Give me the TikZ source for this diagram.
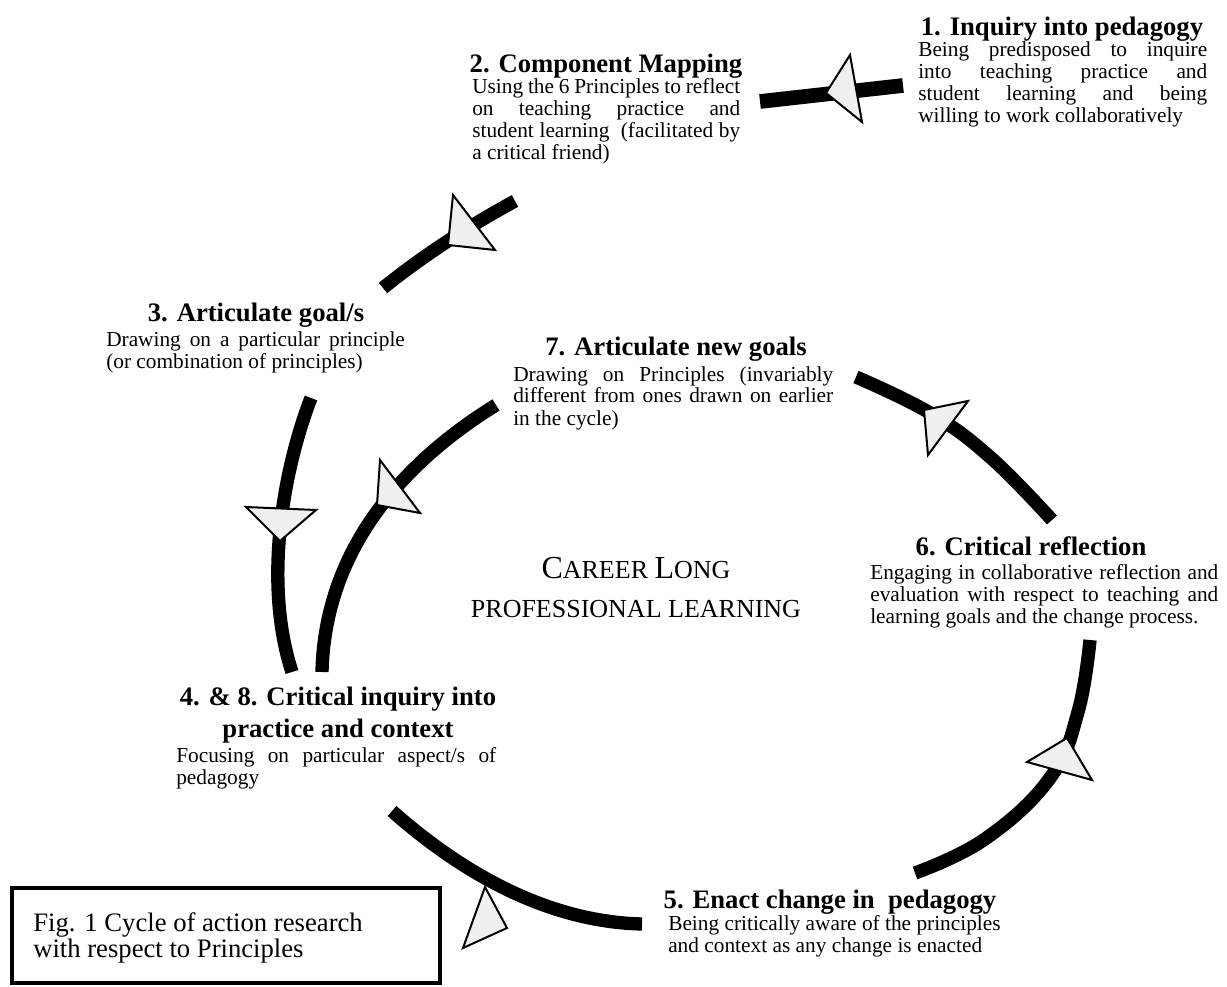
\documentclass[tikz,border=0pt]{standalone}
\usepackage{fontspec}
\setmainfont{Liberation Serif}
\newcommand\myhead{\fontsize{20pt}{24pt}\selectfont\bfseries}
\newcommand\mybody{\fontsize{16pt}{16.5pt}\selectfont}
\newcommand\jl[2]{\hbox to #1{#2}}
\newcommand\nl[1]{\hbox{#1}}
\newcommand\blk[1]{\vtop{\baselineskip=16.5pt\lineskiplimit=-20pt\lineskip=0pt #1}}
\newcommand\scbig[1]{{\fontsize{24pt}{26pt}\selectfont #1}}
\newcommand\scsm[1]{{\fontsize{19.5pt}{22pt}\selectfont #1}}
\begin{document}
\begin{tikzpicture}[x=0.75pt,y=-0.75pt,
  arcline/.style={line width=10pt},
  ahead/.style={draw=black, fill=gray!12, line width=1.5pt, line join=miter},
  hd/.style={inner sep=0pt, anchor=base, font=\myhead},
  bd/.style={inner sep=0pt, anchor=base west, font=\mybody},
  capbox/.style={draw=black, line width=3pt}]
\fill[white] (0,0) rectangle (1227,987);
\useasboundingbox (0,0) rectangle (1227,987);

% ---- texts
\node[hd] (h1) at (1062,36) {1. Inquiry into pedagogy};
\node[bd] (b1) at (918,57) {\blk{\jl{216.75pt}{Being predisposed to inquire}\jl{216.75pt}{into teaching practice and}\jl{216.75pt}{student learning and being}\nl{willing to work collaboratively}}};

\node[hd] (h2) at (606,73) {2. Component Mapping};
\node[bd] (b2) at (472,94) {\blk{\jl{201pt}{Using the 6 Principles to reflect}\jl{201pt}{on teaching practice and}\jl{201pt}{student learning\ \ (facilitated by}\nl{a critical friend)}}};

\node[hd] (h3) at (256,322) {3. Articulate goal/s};
\node[bd] (b3) at (106,347) {\blk{\jl{224pt}{Drawing on a particular principle}\nl{(or combination of principles)}}};

\node[hd] (h7) at (676,355) {7. Articulate new goals};
\node[bd] (b7) at (513,381) {\blk{\jl{240pt}{Drawing on Principles (invariably}\jl{240pt}{different from ones drawn on earlier}\nl{in the cycle)}}};

\node[hd] (h6) at (1031,555) {6. Critical reflection};
\node[bd] (b6) at (870,579) {\blk{\jl{261pt}{Engaging in collaborative reflection and}\jl{261pt}{evaluation with respect to teaching and}\nl{learning goals and the change process.}}};

\node[hd] (h4) at (338,705) {\vtop{\baselineskip=24pt\lineskiplimit=-20pt\hbox to 240pt{\hfil 4. \& 8. Critical inquiry into\hfil}\hbox to 240pt{\hfil practice and context\hfil}}};
\node[bd] (b4) at (176,762) {\blk{\jl{240pt}{Focusing on particular aspect/s of}\nl{pedagogy}}};

\node[hd] (h5) at (830,908) {5. Enact change in~ pedagogy};
\node[bd] (b5) at (668,930) {\blk{\nl{Being critically aware of the principles}\nl{and context as any change is enacted}}};

\node[inner sep=0pt, anchor=base] (t1) at (636,578) {\scbig{C}\scsm{AREER }\scbig{L}\scsm{ONG}};
\node[inner sep=0pt, anchor=base] (t2) at (636,617) {\scsm{PROFESSIONAL LEARNING}};

\node[inner sep=0pt, anchor=base west, font=\fontsize{20pt}{19.5pt}\selectfont] (cap) at (33,931) {\vtop{\baselineskip=19.5pt\lineskiplimit=-20pt\hbox{Fig. 1 Cycle of action research}\hbox{with respect to Principles}}};
\coordinate (bx1) at (12,888);
\coordinate (bx2) at (440,983);
\draw[capbox] (bx1) rectangle (bx2);

% ---- arcs
\coordinate (a1s) at (903,85.5);  \coordinate (a1e) at (760,101.5);
\coordinate (a2s) at (515,201); \coordinate (a2e) at (383,288);
\coordinate (a3s) at (311,398); \coordinate (a3e) at (292,672);
\coordinate (a4s) at (392,811); \coordinate (a4e) at (642,924);
\coordinate (a5s) at (915,873); \coordinate (a5e) at (1090,640);
\coordinate (a6s) at (1052,520); \coordinate (a6e) at (856,377);
\coordinate (a7s) at (496,405); \coordinate (a7e) at (322,672);

\draw[arcline, line width=11pt] (a1s) -- (a1e);
\draw[arcline] (a2s) .. controls (469,226) and (424,255) .. (a2e);
\draw[arcline] (a3s) .. controls (285,465) and (262,580) .. (a3e);
\draw[arcline] (a4s) .. controls (470,880) and (555,922) .. (a4e);
\draw[arcline] plot[smooth, tension=0.7] coordinates {(a5s) (985,839) (1050,778) (1078,712) (a5e)};
\draw[arcline] plot[smooth, tension=0.7] coordinates {(a6s) (990,457) (930,413) (a6e)};
\draw[arcline] (a7s) .. controls (415,455) and (325,540) .. (a7e);

% ---- arrowheads
\filldraw[ahead] (826,93) -- (850,55) -- (862,122) -- cycle;
\filldraw[ahead] (448,245) -- (453,195) -- (495,250) -- cycle;
\filldraw[ahead] (280,541) -- (246,507) -- (316,510) -- cycle;
\filldraw[ahead] (377,505) -- (380,460) -- (420,513) -- cycle;
\filldraw[ahead] (507,928) -- (485,887) -- (463,948) -- cycle;
\filldraw[ahead] (1067,738) -- (1027,762) -- (1092,780) -- cycle;
\filldraw[ahead] (924,410) -- (968,401) -- (928,455) -- cycle;
\end{tikzpicture}
\end{document}
